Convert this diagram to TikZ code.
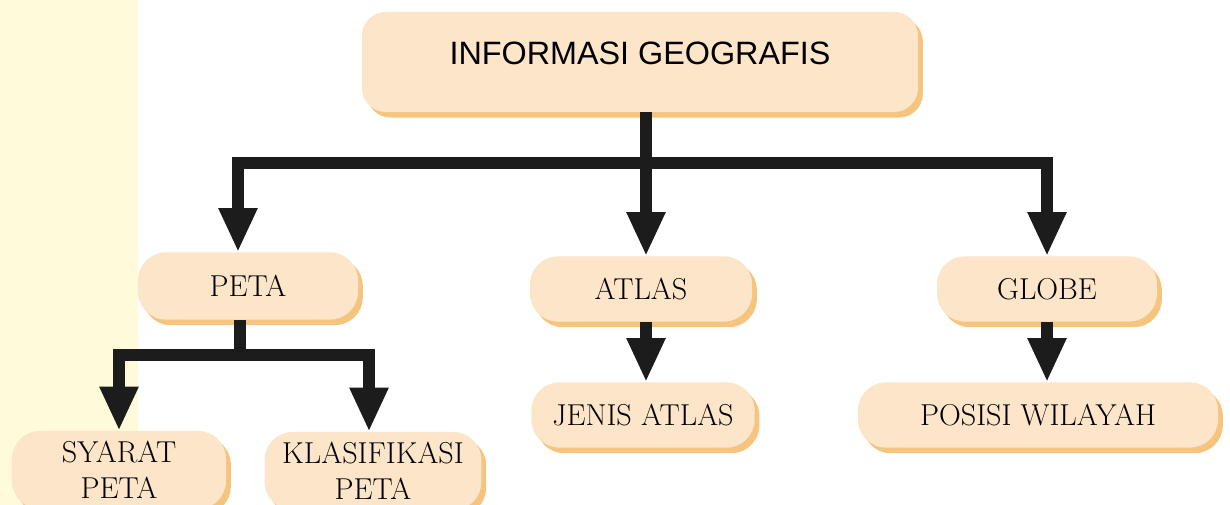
\documentclass[tikz,border=0pt]{standalone}
\usepackage{fontspec}
\newfontfamily\headfont{Liberation Sans}
\usetikzlibrary{positioning, arrows.meta, shadows}
\definecolor{peach}{HTML}{FCE5C8}
\definecolor{peachshadow}{HTML}{F3BA68}
\definecolor{paleyellow}{HTML}{FFFADA}
\definecolor{darkline}{HTML}{1C1C1C}

\begin{document}
\begin{tikzpicture}[
            x=0.025cm, y=-0.025cm,
            box/.style={fill=peach, rounded corners=0.7cm, align=center, inner sep=0pt,
                font=\fontsize{21.5}{26}\selectfont,
                drop shadow={shadow xshift=0.12cm, shadow yshift=-0.14cm, fill=peachshadow, opacity=0.85}},
            headbox/.style={box, rounded corners=0.6cm, font=\headfont\fontsize{23}{28}\selectfont, text depth=0.45cm},
            link/.style={draw=darkline, line width=0.3cm},
            arrow/.style={link, -{Triangle[width=0.9cm, length=1.1cm]}}
        ]
            \fill [paleyellow] (0,0) rectangle (138,505);
            \useasboundingbox (0,0) rectangle (1230,505);

            \node [headbox, minimum width=13.9cm, minimum height=2.5cm] (info) at (640,62) {INFORMASI GEOGRAFIS};

            \node [box, minimum width=5.5cm, minimum height=1.68cm] (peta) at (248,286) {PETA};
            \node [box, minimum width=5.55cm, minimum height=1.63cm] (atlas) at (641,289) {ATLAS};
            \node [box, minimum width=5.5cm, minimum height=1.63cm] (globe) at (1047,289) {GLOBE};

            \node [box, minimum width=5.35cm, minimum height=1.95cm] (syarat) at (119,470) {SYARAT\\PETA};
            \node [box, minimum width=5.42cm, minimum height=1.95cm] (klas) at (373,471) {KLASIFIKASI\\PETA};
            \node [box, minimum width=5.58cm, minimum height=1.63cm] (jenis) at (643,415) {JENIS ATLAS};
            \node [box, minimum width=9cm, minimum height=1.63cm] (posisi) at (1038,415) {POSISI WILAYAH};

            \coordinate (fork) at (646,163);
            \coordinate (petafork) at (240,355);

            \draw [link] (info.south -| fork) -- (fork);
            \draw [arrow] (fork) -| ([xshift=-0.25cm]peta.north);
            \draw [arrow] (fork) -| (globe.north);
            \draw [arrow] (fork) -- (fork |- atlas.north);

            \draw [link] (peta.south -| petafork) -- (petafork);
            \draw [arrow] (petafork) -| (syarat.north);
            \draw [arrow] (petafork) -| ([xshift=-0.1cm]klas.north);

            \draw [arrow] (atlas.south -| fork) -- (jenis.north -| fork);
            \draw [arrow] (globe.south) -- (globe.south |- posisi.north);

        \end{tikzpicture}
\end{document}
